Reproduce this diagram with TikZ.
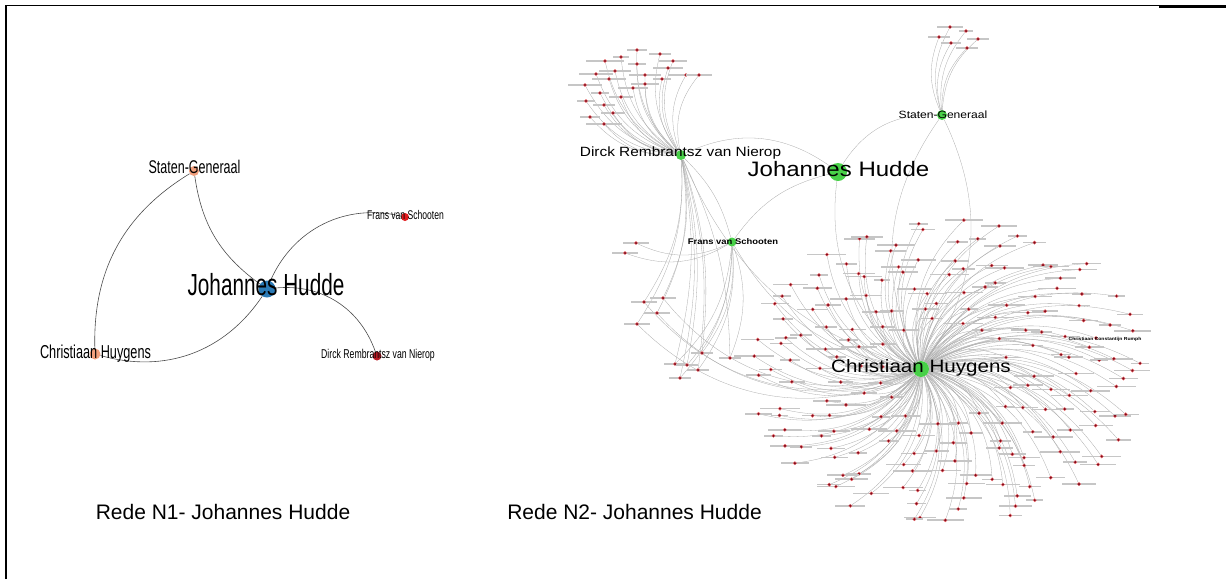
\documentclass[tikz,border=0pt]{standalone}
\usepackage{fontspec}
\setmainfont{Liberation Sans}
\newfontfamily\narrowfont[FakeStretch=0.68]{Liberation Sans}
\newfontfamily\widefont[FakeStretch=1.15]{Liberation Sans}
\usepackage{tikz}
\usepackage{xcolor}

\definecolor{hudblue}{RGB}{44,123,182}
\definecolor{salmon}{RGB}{242,160,125}
\definecolor{redA}{RGB}{225,28,30}
\definecolor{redB}{RGB}{185,25,35}
\definecolor{hubgreen}{RGB}{72,208,72}
\definecolor{leafred}{RGB}{125,12,28}

\pgfdeclarelayer{edges}
\pgfdeclarelayer{front}
\pgfsetlayers{edges,main,front}

\tikzset{
  hub/.style={circle, inner sep=0pt, minimum size=#1},
  leaf/.style={circle, inner sep=0pt, minimum size=3.4pt, fill=leafred, draw=red!55, line width=0.3pt},
  greek/.style={rectangle, inner sep=0pt, minimum height=1.6pt, fill=gray!45},
  linkA/.style={draw=black!70, line width=0.6pt},
  linkB/.style={draw=black!33, line width=0.3pt},
  labA/.style={font={\narrowfont\fontsize{#1}{#1}\selectfont}, anchor=base, inner sep=0pt},
  labB/.style={font={\widefont\fontsize{#1}{#1}\selectfont}, anchor=base, inner sep=0pt},
  caption/.style={font={\fontsize{21}{21}\selectfont}, anchor=base, inner sep=0pt}
}

\begin{document}
\begin{tikzpicture}[x=1pt,y=-1pt]
  \useasboundingbox (0,0) rectangle (1226,579);

  % frame
  \draw[line width=2pt] (6,579) -- (6,4.6);
  \draw[line width=1.2pt] (5,5.5) -- (1159,5.5);
  \draw[line width=2.6pt] (1159,6.3) -- (1226,6.3);

  % Rede N1
  \node[hub=17pt, fill=hudblue] (jh1) at (267,289) {};
  \node[hub=10pt, fill=salmon] (sg1) at (194,171) {};
  \node[hub=11pt, fill=salmon] (ch1) at (95,354) {};
  \node[hub=8pt, fill=redA] (fs1) at (405,217) {};
  \node[hub=9pt, fill=redB] (dr1) at (377,356) {};

  \begin{pgfonlayer}{edges}
    \draw[linkA] (sg1) to[bend right=30] (ch1);
    \draw[linkA] (sg1) to[bend right=23] (jh1);
    \draw[linkA] (ch1) to[bend right=36] (jh1);
    \draw[linkA] (jh1) to[bend left=40] (fs1);
    \draw[linkA] (jh1) to[bend left=38] (dr1);
  \end{pgfonlayer}

  \begin{pgfonlayer}{front}
    \node[labA=18.4] (sg1t) at (194.5,173.6) {Staten-Generaal};
    \node[labA=18.7] (ch1t) at (95.5,358) {Christiaan Huygens};
    \node[labA=30.5] (jh1t) at (266,295) {Johannes Hudde};
    \node[labA=12.6] (fs1t) at (405.5,219) {Frans van Schooten};
    \node[labA=12.8] (dr1t) at (378,358) {Dirck Rembrantsz van Nierop};
  \end{pgfonlayer}

  % Rede N2
  \node[hub=18pt, fill=hubgreen] (jh2) at (838,172) {};
  \node[hub=16pt, fill=hubgreen] (hu2) at (921,369) {};
  \node[hub=10pt, fill=hubgreen] (dr2) at (681,155) {};
  \node[hub=10pt, fill=hubgreen] (sg2) at (942,115) {};
  \node[hub=9pt, fill=hubgreen] (fs2) at (732,242) {};

  \pgfmathsetseed{42}

  % Dirck's correspondents
  \foreach \x/\y [count=\i] in {637/50, 660/54, 621/57, 605/61, 673/61, 637/64,
      668/68, 615/71, 596/74, 645/75, 686/75, 699/75, 662/79, 609/79, 645/84,
      585/85, 633/88, 600/93, 621/97, 586/101, 604/105, 613/113, 590/117, 604/124}{
    \pgfmathsetmacro\bw{14+rnd*24}
    \node[greek, minimum width=\bw pt] (db\i) at (\x,\y) {};
    \node[leaf] (dl\i) at (\x,\y) {};
    \begin{pgfonlayer}{edges}
      \draw[linkB] (dr2) to[bend left=25] (dl\i);
    \end{pgfonlayer}
  }

  % Staten-Generaal's correspondents
  \foreach \x/\y [count=\i] in {950/27, 966/31, 939/37, 978/39, 951/43, 967/48}{
    \pgfmathsetmacro\bw{14+rnd*20}
    \node[greek, minimum width=\bw pt] (sb\i) at (\x,\y) {};
    \node[leaf] (sl\i) at (\x,\y) {};
    \begin{pgfonlayer}{edges}
      \draw[linkB] (sg2) to[bend left=22] (sl\i);
    \end{pgfonlayer}
  }

  % around Frans van Schooten
  \foreach \x/\y [count=\i] in {636/243, 625/253, 663/298, 644/302, 657/313, 637/324}{
    \node[greek, minimum width=26pt] (fb\i) at (\x,\y) {};
    \node[leaf] (fl\i) at (\x,\y) {};
  }
  \foreach \x/\y [count=\i] in {675/364, 687/365, 702/353, 698/370, 730/358, 680/378}{
    \node[greek, minimum width=22pt] (mb\i) at (\x,\y) {};
    \node[leaf] (ml\i) at (\x,\y) {};
  }
  \begin{pgfonlayer}{edges}
    \draw[linkB] (fs2) to[bend left=25] (fl1);
    \draw[linkB] (fs2) to[bend left=25] (fl2);
    \foreach \i in {3,...,6}{
      \draw[linkB] (dr2) to[bend left=18] (fl\i);
      \draw[linkB] (fl\i) to[bend right=35] (hu2);
    }
    \foreach \i in {1,...,6}{
      \draw[linkB] (fs2) to[bend left=20] (ml\i);
      \draw[linkB] (dr2) to[bend left=12] (ml\i);
    }
    \draw[linkB] (dr2) to[bend left=30] (jh2);
    \draw[linkB] (jh2) to[bend left=30] (sg2);
    \draw[linkB] (jh2) to[bend right=20] (fs2);
    \draw[linkB] (jh2) to[bend right=30] (hu2);
    \draw[linkB] (sg2) to[bend left=30] (hu2);
    \draw[linkB] (sg2) to[bend right=30] (hu2);
    \draw[linkB] (dr2) to[bend left=15] (fs2);
    \draw[linkB] (fs2) to[bend right=25] (hu2);
    \draw[linkB] (dr2) to[bend right=25] (hu2);
  \end{pgfonlayer}

  % Christiaan Huygens' correspondents
  \foreach \rf [count=\k] in {0.34,0.44,0.54,0.64,0.74,0.84,0.94}{
    \pgfmathtruncatemacro\n{round(40*\rf)+2}
    \foreach \j in {1,...,\n}{
      \pgfmathsetmacro\ang{360*(\j+0.5*\k)/\n+rand*7}
      \pgfmathsetmacro\hr{\rf+rand*0.035}
      \pgfmathsetmacro\hx{946+205*\hr*cos(\ang)}
      \pgfmathsetmacro\hy{372+157*\hr*sin(\ang)}
      \pgfmathsetmacro\bw{16+rnd*24}
      \node[greek, minimum width=\bw pt] (hb\k-\j) at (\hx,\hy) {};
      \node[leaf] (hl\k-\j) at (\hx,\hy) {};
      \begin{pgfonlayer}{edges}
        \draw[linkB] (hu2) to[bend left=28] (hl\k-\j);
      \end{pgfonlayer}
    }
  }
  \node[leaf] (rumph) at (1096,338) {};
  \begin{pgfonlayer}{edges}
    \draw[linkB] (hu2) to[bend left=28] (rumph);
  \end{pgfonlayer}

  \begin{pgfonlayer}{front}
    \node[labB=13.4] (dr2t) at (680.5,156.7) {Dirck Rembrantsz van Nierop};
    \node[labB=20.9] (jh2t) at (838.5,176.7) {Johannes Hudde};
    \node[labB=10.5] (sg2t) at (943,118) {Staten-Generaal};
    \node[labB=8.2, font={\widefont\bfseries\fontsize{8.2}{8.2}\selectfont}] (fs2t) at (733,244) {Frans van Schooten};
    \node[labB=17.9] (hu2t) at (921,372) {Christiaan Huygens};
    \node[labB=4.4, font={\widefont\bfseries\fontsize{4.4}{4.4}\selectfont}] (rumpht) at (1105,340) {Christiaan Constantijn Rumph};
  \end{pgfonlayer}

  % captions
  \node[caption] (cap1) at (223,519) {Rede N1- Johannes Hudde};
  \node[caption] (cap2) at (634.5,519) {Rede N2- Johannes Hudde};
\end{tikzpicture}
\end{document}
